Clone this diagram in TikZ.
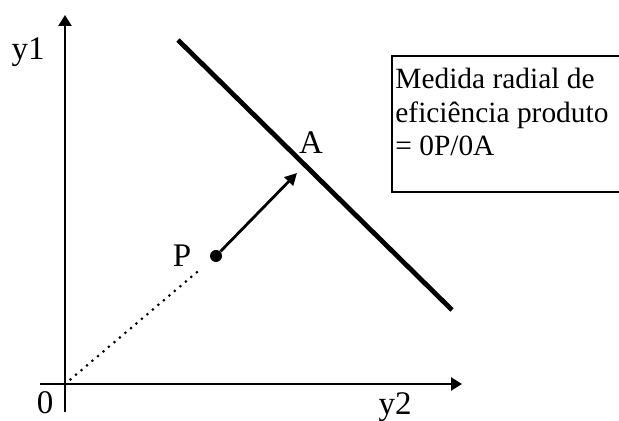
\documentclass[tikz,border=0pt]{standalone}
\usepackage{fontspec}
\setmainfont{Liberation Serif}
\usetikzlibrary{positioning,arrows.meta}

\begin{document}
\begin{tikzpicture}[x=0.5pt,y=0.5pt,
          eixo/.style={line width=1.1pt,-{Triangle[length=5.5pt,width=6.5pt]}},
          fronteira/.style={line width=2.4pt},
          seta/.style={line width=1.4pt,-{Triangle[length=6pt,width=6pt]}},
          pontilhado/.style={line width=1.5pt,line cap=round,
                    dash pattern=on 0pt off 3.6pt},
          ponto/.style={circle,fill=black,inner sep=0pt,minimum size=6pt},
          rotulo/.style={font=\fontsize{16.5}{18}\selectfont,inner sep=0pt},
          caixa/.style={line width=1pt}]
        \useasboundingbox (-65,-37) rectangle (554,384);
        % eixos
        \coordinate (O) at (0,0);
        \coordinate (ybase) at (0,-28);
        \coordinate (ytopo) at (0,369);
        \coordinate (xbase) at (-25,0);
        \coordinate (xtopo) at (397,0);
        \draw[eixo] (ybase) -- (ytopo);
        \draw[eixo] (xbase) -- (xtopo);
        \node[rotulo] (y1) at (-37,332) {y1};
        \node[rotulo] (y2) at (330,-23) {y2};
        \node[rotulo] (zero) at (-20,-19) {0};
        % fronteira
        \coordinate (f1) at (113,344);
        \coordinate (f2) at (387,74);
        \draw[fronteira] (f1) -- (f2);
        \node[rotulo] (A) at (246,241) {A};
        % ponto P
        \node[ponto] (P) at (151,128) {};
        \node[rotulo,left=9pt of P] (Plab) {P};
        \coordinate (Aseta) at (232,211);
        \draw[seta] (P) -- (Aseta);
        \draw[pontilhado,shorten >=8pt] (O) -- (P);
        % caixa
        \draw[caixa] (554,328) -- (327,328) -- (327,192) -- (554,192);
        \node[anchor=north west,inner sep=0pt,align=left,
              font=\fontsize{14.7}{16.8}\selectfont] (texto) at (330,316)
              {Medida radial de\\eficiência produto\\= 0P/0A};
      \end{tikzpicture}
\end{document}
